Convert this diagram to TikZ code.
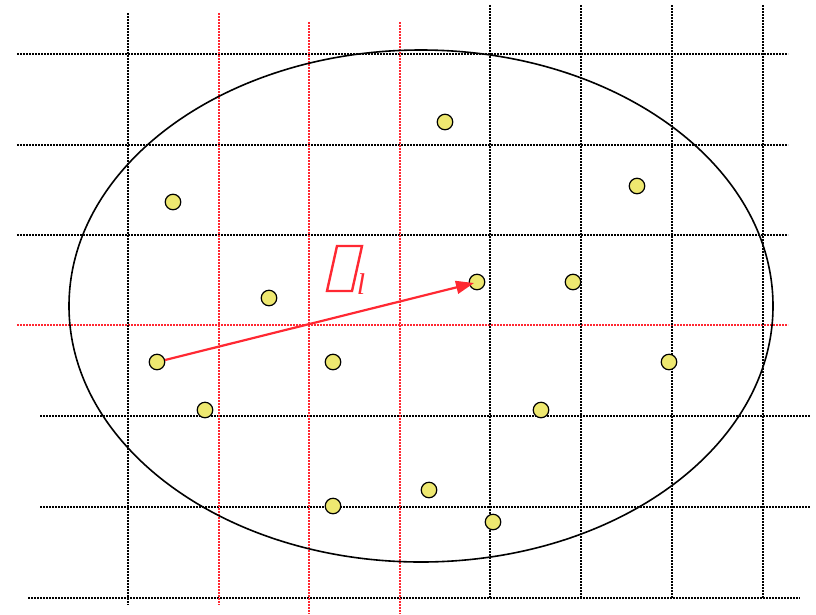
\documentclass[tikz,border=0pt]{standalone}
\usetikzlibrary{arrows.meta}
\usepackage{fontspec}
\setmainfont{Liberation Serif}
\definecolor{gridred}{RGB}{255,40,50}
\definecolor{dotfill}{RGB}{238,232,112}
\tikzset{
  gline/.style={line width=1.7pt, dash pattern=on 1.6pt off 1.4pt},
  gblack/.style={gline, black},
  gred/.style={gline, gridred},
  ptdot/.style={circle, draw=black, fill=dotfill, line width=1.2pt, minimum size=15.5pt, inner sep=0pt},
  vec/.style={gridred, line width=2.2pt, -{Triangle[length=18pt,width=13pt]}},
}
\begin{document}
\begin{tikzpicture}[x=1pt,y=-1pt]
\useasboundingbox (0,0) rectangle (816,614);
% horizontal lines
\draw[gblack] (17,54) -- (788,54);
\draw[gblack] (17,145) -- (788,145);
\draw[gblack] (17,235) -- (788,235);
\draw[gred] (17,325) -- (788,325);
\draw[gblack] (40,416) -- (810,416);
\draw[gblack] (40,507) -- (810,507);
\draw[gblack] (28,598) -- (800,598);
% vertical lines
\draw[gblack] (128,13) -- (128,605);
\draw[gred] (219,13) -- (219,605);
\draw[gred] (309,22) -- (309,614);
\draw[gred] (400,22) -- (400,614);
\draw[gblack] (490,5) -- (490,598);
\draw[gblack] (581,5) -- (581,598);
\draw[gblack] (672,5) -- (672,598);
\draw[gblack] (763,5) -- (763,598);
% ellipse
\draw[black, line width=1.6pt] (421,306) ellipse [x radius=352, y radius=256];
% points
\node[ptdot] (p1) at (157,362) {};
\node[ptdot] (p2) at (445,122) {};
\node[ptdot] (p3) at (173,202) {};
\node[ptdot] (p4) at (637,186) {};
\node[ptdot] (p5) at (269,298) {};
\node[ptdot] (p6) at (477,282) {};
\node[ptdot] (p7) at (573,282) {};
\node[ptdot] (p8) at (333,362) {};
\node[ptdot] (p9) at (669,362) {};
\node[ptdot] (p10) at (205,410) {};
\node[ptdot] (p11) at (541,410) {};
\node[ptdot] (p12) at (429,490) {};
\node[ptdot] (p13) at (333,506) {};
\node[ptdot] (p14) at (493,522) {};
% vector
\coordinate (tip) at (474,283);
\draw[vec] (p1) -- (tip);
% label: slanted box with subscript l
\draw[gridred, line width=2.4pt] (337,246) -- (362,246) -- (352,291) -- (327,291) -- cycle;
\node[gridred, font=\fontsize{30}{30}\selectfont\itshape, inner sep=0pt, anchor=base] (lab) at (361,294) {l};
\end{tikzpicture}
\end{document}
